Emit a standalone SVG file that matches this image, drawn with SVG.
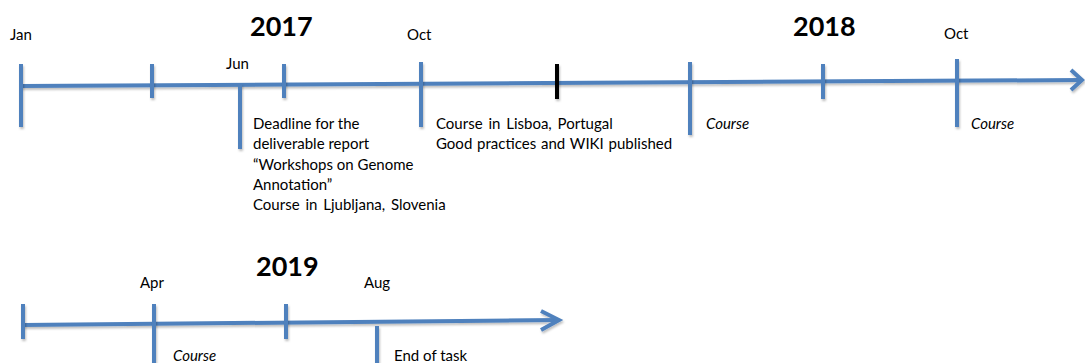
<svg xmlns="http://www.w3.org/2000/svg" width="1085" height="363" viewBox="0 0 1085 363">
<style>
.ax{stroke:#4F81BD;stroke-width:4;fill:none;stroke-linecap:butt}
.tk{stroke:#4F81BD;stroke-width:4}
.bk{stroke:#000;stroke-width:4}
.t{font-family:Lato,"Liberation Sans",sans-serif;font-size:15px;fill:#000}
.i{font-style:italic}
.y{font-family:Lato,"Liberation Sans",sans-serif;font-size:27px;font-weight:bold;fill:#000}
</style>
<defs>
<filter id="sh" x="-5%" y="-50%" width="110%" height="200%">
<feDropShadow dx="1" dy="2" stdDeviation="1" flood-color="#000" flood-opacity="0.25"/>
</filter>
</defs>
<g id="connectors" filter="url(#sh)">
<path class="ax" d="M21 86 L1081 80"/>
<path class="ax" d="M1071 70 L1082 80 L1071 90"/>
<path class="ax" d="M23 325 L558 320"/>
<path class="ax" d="M541 311 L559 320 L541 330"/>
</g>
<g id="ticks2017" filter="url(#sh)">
<line class="tk" x1="21" y1="64" x2="21" y2="127"/>
<line class="tk" x1="152" y1="64" x2="152" y2="98"/>
<line class="tk" x1="240" y1="84" x2="240" y2="149"/>
<line class="tk" x1="284" y1="64" x2="284" y2="98"/>
<line class="tk" x1="421" y1="62" x2="421" y2="127"/>
<line class="bk" x1="557" y1="64" x2="557" y2="99"/>
<line class="tk" x1="690" y1="62" x2="690" y2="135"/>
<line class="tk" x1="823" y1="64" x2="823" y2="99"/>
<line class="tk" x1="957" y1="59" x2="957" y2="127"/>
</g>
<g id="ticks2019" filter="url(#sh)">
<line class="tk" x1="23" y1="304" x2="23" y2="339"/>
<line class="tk" x1="154" y1="304" x2="154" y2="363"/>
<line class="tk" x1="286" y1="304" x2="286" y2="339"/>
<line class="tk" x1="377" y1="326" x2="377" y2="363"/>
</g>
<g id="year2017"><text class="y" x="250" y="36">2017</text></g>
<g id="year2018"><text class="y" x="793" y="36">2018</text></g>
<g id="year2019"><text class="y" x="256" y="276">2019</text></g>
<g id="jan"><text class="t" x="10" y="40">Jan</text></g>
<g id="jun"><text class="t" x="226" y="69">Jun</text></g>
<g id="oct2017"><text class="t" x="407" y="40">Oct</text></g>
<g id="oct2018"><text class="t" x="944" y="39">Oct</text></g>
<g id="apr"><text class="t" x="140" y="288">Apr</text></g>
<g id="aug"><text class="t" x="364" y="288">Aug</text></g>
<g id="deadline">
<text class="t" x="253" y="129">Deadline for the</text>
<text class="t" x="253" y="149">deliverable report</text>
<text class="t" x="253" y="170">“Workshops on Genome</text>
<text class="t" x="253" y="190">Annotation”</text>
<text class="t" x="253" y="210" word-spacing="2">Course in Ljubljana, Slovenia</text>
</g>
<g id="lisboa">
<text class="t" x="436" y="129" word-spacing="2">Course in Lisboa, Portugal</text>
<text class="t" x="436" y="149" word-spacing="1">Good practices and WIKI published</text>
</g>
<g id="course1"><text class="t i" x="706" y="129">Course</text></g>
<g id="course2"><text class="t i" x="971" y="129">Course</text></g>
<g id="course3"><text class="t i" x="173" y="361">Course</text></g>
<g id="endtask"><text class="t" x="394" y="361">End of task</text></g>
</svg>
